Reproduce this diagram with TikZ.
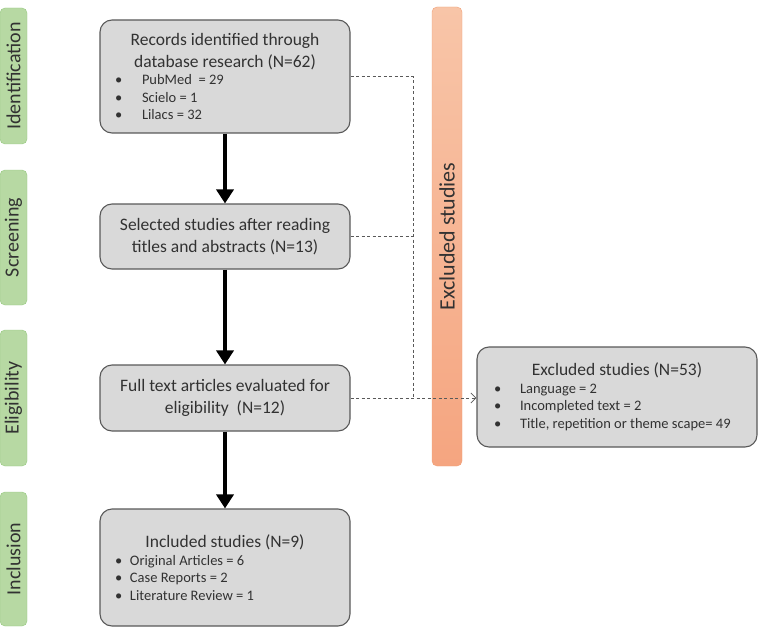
\documentclass[tikz,border=0pt]{standalone}
\usepackage{fontspec}
\setmainfont{Carlito}
\usepackage{tikz}
\usepackage{xcolor}
\usetikzlibrary{arrows.meta}
\definecolor{boxgray}{RGB}{217,217,217}
\definecolor{boxline}{RGB}{89,89,89}
\definecolor{txtgray}{RGB}{50,50,50}
\definecolor{stagefill}{RGB}{183,217,163}
\definecolor{stageline}{RGB}{150,200,128}
\definecolor{barlight}{RGB}{248,197,168}
\definecolor{bardark}{RGB}{245,165,128}
\definecolor{barline}{RGB}{240,160,120}
\newcommand{\bitem}[2][27pt]{\makebox[#1][l]{\textbullet}#2\par}
\tikzset{
    flow-box/.style = {draw=boxline, fill=boxgray, line width=1.1pt, rectangle, rounded corners=12pt, inner xsep=15pt, inner ysep=4pt, text=txtgray, font=\fontsize{17.5}{22}\selectfont},
    stage-tag/.style = {draw=stageline, fill=stagefill, rotate=90, rounded corners=5pt, minimum height=27pt, inner sep=0pt, text=txtgray, font=\fontsize{20}{22}\selectfont},
    excl-bar/.style = {draw=barline, top color=barlight, bottom color=bardark, rotate=90, rounded corners=5pt, minimum width=459pt, minimum height=30pt, inner sep=0pt, text=txtgray, font=\fontsize{22}{24}\selectfont},
    flow-arrow/.style = {line width=4pt, -{Triangle[width=17pt,length=14pt]}},
    dash-link/.style = {draw=boxline, line width=0.8pt, dash pattern=on 3pt off 2.5pt},
}

\begin{document}
\begin{tikzpicture}[x=1pt, y=-1pt]
\useasboundingbox (0,0) rectangle (759,631);
% stage tags on the left
\node[stage-tag, minimum width=136pt] (tag-id) at (13.5,76) {Identification};
\node[stage-tag, minimum width=135pt] (tag-scr) at (13.5,237.5) {Screening};
\node[stage-tag, minimum width=136pt] (tag-eli) at (13.5,398) {Eligibility};
\node[stage-tag, minimum width=134pt] (tag-inc) at (13.5,559) {Inclusion};
% main boxes
\node[flow-box, minimum width=250pt, minimum height=113pt] (records) at (225,76.5) {\begin{minipage}{220pt}\centering
    Records identified through\\ database research (N=62)\par
    \raggedright\fontsize{14.5}{17.5}\selectfont
    \bitem{PubMed\ \ = 29}
    \bitem{Scielo = 1}
    \bitem{Lilacs = 32}
\end{minipage}};
\node[flow-box, minimum width=250pt, minimum height=65pt] (selected) at (225,236.5) {\begin{minipage}{220pt}\centering
    Selected studies after reading\\ titles and abstracts (N=13)
\end{minipage}};
\node[flow-box, minimum width=250pt, minimum height=66pt] (fulltext) at (225,398) {\begin{minipage}{220pt}\centering
    Full text articles evaluated for\\ eligibility\ \ (N=12)
\end{minipage}};
\node[flow-box, minimum width=250pt, minimum height=117pt] (included) at (225,567.5) {\begin{minipage}{220pt}\centering
    Included studies (N=9)\par
    \raggedright\fontsize{14.5}{17.5}\selectfont
    \bitem[15pt]{Original Articles = 6}
    \bitem[15pt]{Case Reports = 2}
    \bitem[15pt]{Literature Review = 1}
\end{minipage}};
% excluded side
\node[excl-bar] (excl-bar) at (447,236.5) {Excluded studies};
\node[flow-box, inner xsep=17pt, minimum width=280pt, minimum height=100pt] (excluded) at (617,397) {\begin{minipage}{246pt}\centering
    Excluded studies (N=53)\par
    \raggedright\fontsize{14.5}{17.5}\selectfont
    \bitem[26pt]{Language = 2}
    \bitem[26pt]{Incompleted text = 2}
    \bitem[26pt]{Title, repetition or theme scape= 49}
\end{minipage}};
% arrows
\draw[flow-arrow] (records) -- (selected);
\draw[flow-arrow] (selected) -- (fulltext);
\draw[flow-arrow] (fulltext) -- (included);
\coordinate (trunk) at (413,0);
\draw[dash-link] (records.east) -- (records.east -| trunk) -- (fulltext.east -| trunk);
\draw[dash-link] (selected.east) -- (selected.east -| trunk);
\draw[dash-link, -{Straight Barb[length=5pt,width=10pt]}] (fulltext.east) -- (fulltext.east -| excluded.west);
\end{tikzpicture}
\end{document}
